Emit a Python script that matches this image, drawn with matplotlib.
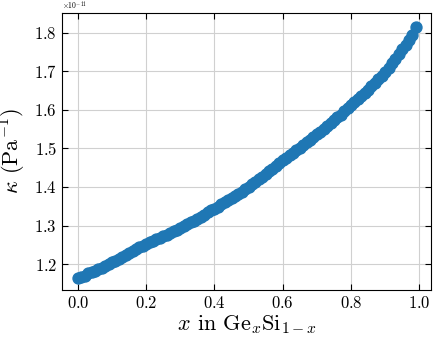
import numpy as np
import matplotlib
matplotlib.use("Agg")
import matplotlib.pyplot as plt

# composition x in Ge_x Si_(1-x), step 0.01
x_ge = np.round(np.arange(0, 100) * 0.01, 2)
# compressibility, units of 1e-11 Pa^-1
kappa = [1.165, 1.167, 1.170, 1.176, 1.180, 1.182, 1.186, 1.191, 1.196, 1.200,
         1.205, 1.209, 1.214, 1.219, 1.223, 1.228, 1.233, 1.238, 1.243, 1.248,
         1.253, 1.257, 1.261, 1.264, 1.268, 1.272, 1.276, 1.280, 1.285, 1.289,
         1.294, 1.299, 1.304, 1.308, 1.313, 1.318, 1.323, 1.328, 1.334, 1.339,
         1.344, 1.349, 1.355, 1.360, 1.366, 1.371, 1.377, 1.383, 1.388, 1.394,
         1.400, 1.407, 1.413, 1.420, 1.427, 1.434, 1.441, 1.448, 1.455, 1.462,
         1.469, 1.476, 1.482, 1.489, 1.495, 1.502, 1.509, 1.516, 1.523, 1.530,
         1.537, 1.544, 1.551, 1.558, 1.566, 1.573, 1.581, 1.588, 1.596, 1.604,
         1.612, 1.620, 1.628, 1.636, 1.645, 1.653, 1.662, 1.671, 1.680, 1.689,
         1.698, 1.709, 1.721, 1.733, 1.745, 1.757, 1.769, 1.781, 1.795, 1.816]

plt.rcParams['font.family'] = 'serif'
plt.rcParams['font.serif'] = ['cmr10']
plt.rcParams['mathtext.fontset'] = 'cm'
plt.rcParams['axes.formatter.use_mathtext'] = True
plt.rcParams['axes.unicode_minus'] = False

fig = plt.figure(figsize=(4.36, 3.39), dpi=100)
ax = fig.add_axes([0.142, 0.145, 0.847, 0.817])

ax.scatter(x_ge, np.array(kappa) * 1e-11, s=62, color='#1f77b4', zorder=3)

ax.set_xlim(-0.047, 1.035)
ax.set_ylim(1.133e-11, 1.852e-11)
ax.set_xticks([0.0, 0.2, 0.4, 0.6, 0.8, 1.0])
ax.set_yticks(np.array([1.2, 1.3, 1.4, 1.5, 1.6, 1.7, 1.8]) * 1e-11)
ax.grid(True, color='#d0d0d0', linewidth=0.8)
ax.set_axisbelow(True)
ax.tick_params(direction='in', top=True, right=True, labelsize=12, length=4)
ax.yaxis.get_offset_text().set_fontsize(5.5)

ax.set_xlabel(r'$x$ in Ge$_x$Si$_{1-x}$', fontsize=16, labelpad=2)
ax.set_ylabel(r'$\kappa$ (Pa$^{-1}$)', fontsize=16, labelpad=4)

fig.savefig('out.png', dpi=100)
